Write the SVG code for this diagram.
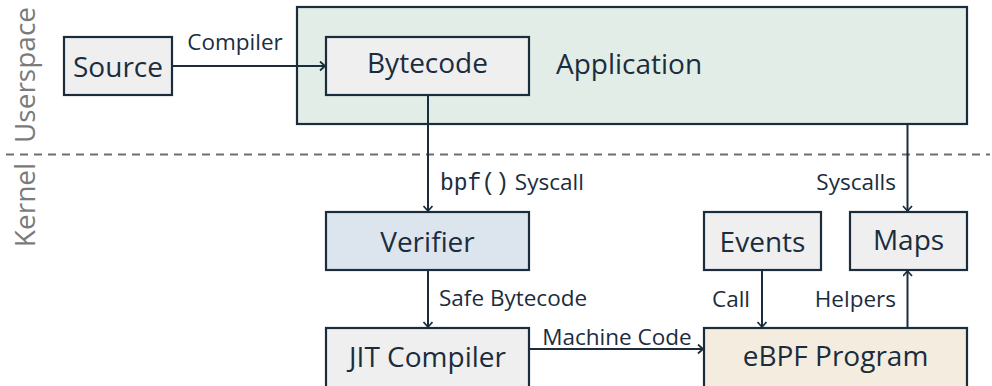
<svg xmlns="http://www.w3.org/2000/svg" width="992" height="386" viewBox="0 0 992 386">
  <style>
    .box { stroke: #1b2d3d; stroke-width: 2.2; }
    .plain { fill: #efefef; }
    .app { fill: #e3ede7; }
    .verify { fill: #dce4ee; }
    .prog { fill: #f3ecdf; }
    .main { font-family: "Open Sans", "Noto Sans", sans-serif; font-size: 28px; fill: #1b2d3d; text-anchor: middle; }
    .lbl { font-family: "Open Sans", "Noto Sans", sans-serif; font-size: 22.5px; fill: #1b2d3d; }
    .mono { font-family: "Liberation Mono", "DejaVu Sans Mono", monospace; font-size: 23px; }
    .side { font-family: "Open Sans", "Noto Sans", sans-serif; font-size: 28px; fill: #7a7a7a; text-anchor: middle; }
    .edge { stroke: #1b2d3d; stroke-width: 2; fill: none; marker-end: url(#chev); }
  </style>
  <defs>
    <marker id="chev" markerUnits="userSpaceOnUse" markerWidth="12" markerHeight="12" refX="7" refY="5" orient="auto">
      <path d="M2,0.5 L7,5 L2,9.5" fill="none" stroke="#1b2d3d" stroke-width="1.8"/>
    </marker>
  </defs>

  <!-- boundary between userspace and kernel -->
  <line x1="6" y1="154.5" x2="990" y2="154.5" stroke="#6e6e6e" stroke-width="2" stroke-dasharray="8,6"/>
  <text class="side" transform="translate(35,75) rotate(-90)">Userspace</text>
  <text class="side" transform="translate(35,205) rotate(-90)">Kernel</text>

  <g id="application">
    <rect class="box app" x="297" y="7" width="670" height="117"/>
    <text class="main" x="556" y="74" style="text-anchor:start">Application</text>
  </g>

  <g id="source">
    <rect class="box plain" x="64" y="37" width="108" height="58"/>
    <text class="main" x="118" y="77">Source</text>
  </g>

  <g id="bytecode">
    <rect class="box plain" x="326" y="37" width="203" height="58"/>
    <text class="main" x="427.5" y="73">Bytecode</text>
  </g>

  <g id="verifier">
    <rect class="box verify" x="326" y="212" width="203" height="58"/>
    <text class="main" x="427.5" y="252">Verifier</text>
  </g>

  <g id="jit">
    <rect class="box plain" x="326" y="328" width="203" height="70"/>
    <text class="main" x="427.5" y="367">JIT Compiler</text>
  </g>

  <g id="events">
    <rect class="box plain" x="704" y="212" width="117" height="58"/>
    <text class="main" x="762.5" y="252">Events</text>
  </g>

  <g id="maps">
    <rect class="box plain" x="850" y="212" width="117" height="58"/>
    <text class="main" x="908.5" y="250">Maps</text>
  </g>

  <g id="ebpf">
    <rect class="box prog" x="704" y="328" width="263" height="70"/>
    <text class="main" x="835.5" y="366">eBPF Program</text>
  </g>

  <g id="connectors">
    <line class="edge" x1="173" y1="66" x2="325" y2="66"/>
    <text class="lbl" x="235" y="50" text-anchor="middle">Compiler</text>

    <line class="edge" x1="428" y1="96" x2="428" y2="211"/>
    <text class="lbl" x="440" y="190"><tspan class="mono">bpf()</tspan> Syscall</text>

    <line class="edge" x1="428" y1="271" x2="428" y2="327"/>
    <text class="lbl" x="439" y="306">Safe Bytecode</text>

    <line class="edge" x1="530" y1="349" x2="703" y2="349"/>
    <text class="lbl" x="617" y="345" text-anchor="middle">Machine Code</text>

    <line class="edge" x1="762" y1="271" x2="762" y2="327"/>
    <text class="lbl" x="750" y="307" text-anchor="end">Call</text>

    <line class="edge" x1="907.5" y1="327" x2="907.5" y2="271"/>
    <text class="lbl" x="896" y="307" text-anchor="end">Helpers</text>

    <line class="edge" x1="907.5" y1="125" x2="907.5" y2="211"/>
    <text class="lbl" x="896" y="190" text-anchor="end">Syscalls</text>
  </g>
</svg>
